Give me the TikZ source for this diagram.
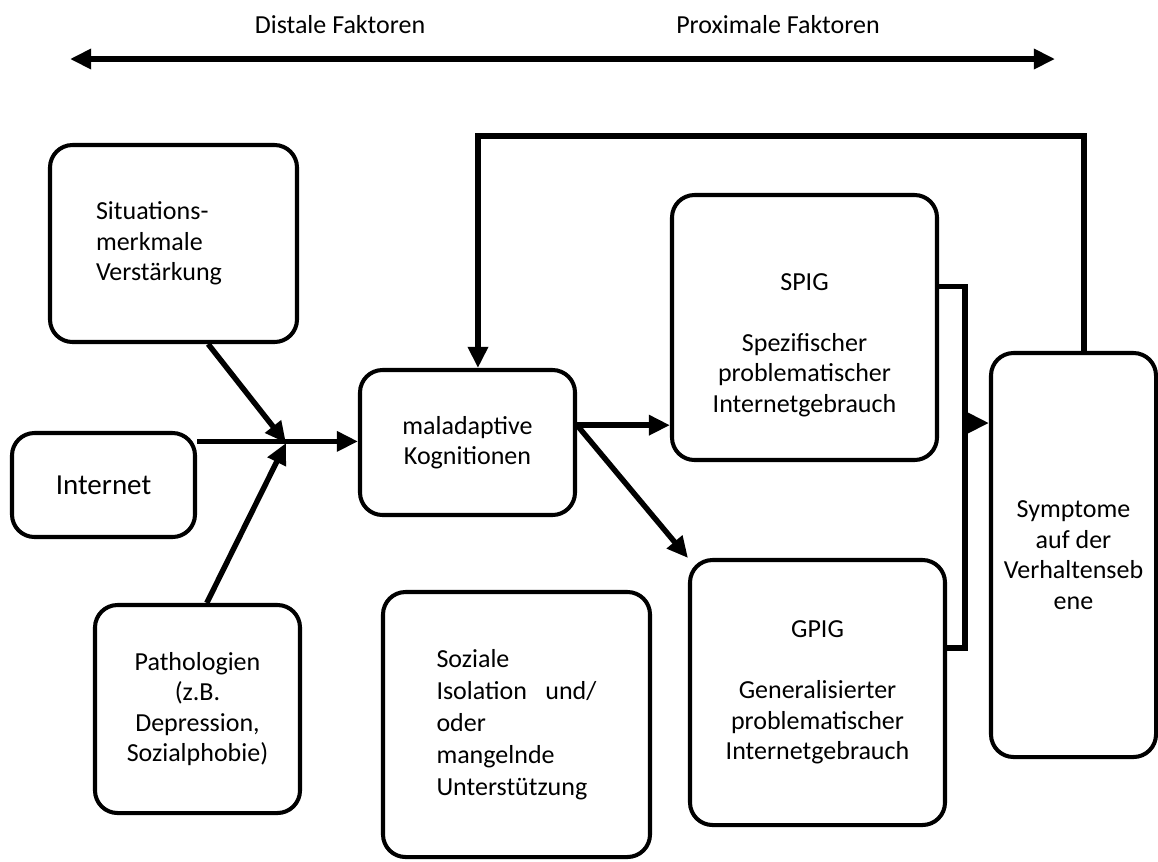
\documentclass[tikz,border=0pt]{standalone}
\usepackage{fontspec}
\setmainfont{Carlito}
\usetikzlibrary{arrows.meta,positioning}

\begin{document}
\begin{tikzpicture}[on grid,font=\fontsize{14.8}{17.4}\selectfont,
   box/.style={draw,line width=2.3pt,rounded corners=0.45cm,align=center,inner sep=0pt},
   wire/.style={line width=3.1pt},
   arr/.style={wire,-{Triangle[length=12pt,width=11pt]}}]
   \useasboundingbox (0,0) rectangle (23.16,-17.22);

   \node[box,minimum width=4.3cm,minimum height=2.9cm] (mal) at (9.35,-8.85) {maladaptive\\Kognitionen};
   \node[box,minimum width=4.94cm,minimum height=3.94cm,text width=3.1cm,align=left] (sit) [above left=3.98cm and 5.88cm of mal] {Situations-\\merkmale\\Verstärkung};
   \node[box,minimum width=3.66cm,minimum height=2.08cm,font=\fontsize{16.5}{19}\selectfont] (inet) [below left=0.85cm and 7.28cm of mal] {Internet};
   \node[box,minimum width=4.1cm,minimum height=4.16cm] (patho) [below left=5.33cm and 5.4cm of mal] {Pathologien\\(z.B.\\Depression,\\Sozialphobie)};
   \node[box,minimum width=5.34cm,minimum height=5.3cm,text width=3.2cm,align=left,font=\fontsize{14.8}{18.2}\selectfont] (soz) [below right=5.64cm and 0.98cm of mal] {Soziale\\Isolation\hfill und/\\oder\\mangelnde\\Unterstützung};
   \node[box,minimum width=5.3cm,minimum height=5.3cm] (spig) [above right=2.3cm and 6.74cm of mal] {\strut\\SPIG\\[17.4pt]Spezifischer\\problematischer\\Internetgebrauch};
   \node[box,minimum width=5.1cm,minimum height=5.3cm] (gpig) [below right=5cm and 7cm of mal] {GPIG\\[17.4pt]Generalisierter\\problematischer\\Internetgebrauch};
   \node[box,minimum width=3.3cm,minimum height=8.08cm] (sym) [below right=2.25cm and 12.12cm of mal] {Symptome\\auf der\\Verhaltenseb\\ene};

   % distal / proximal axis
   \node (dist) at (6.8,-0.5) {Distale Faktoren};
   \node (prox) at (15.56,-0.5) {Proximale Faktoren};
   \coordinate (mid) at (9.6,-1.18);
   \coordinate (lend) at (1.4,-1.18);
   \coordinate (rend) at (21.1,-1.18);
   \draw[arr] (mid) -- (lend);
   \draw[arr] (mid) -- (rend);

   \coordinate (join) at (5.72,-8.86);
   \coordinate (brk) at (19.26,-8.46);
   \draw[arr] (inet.25) -- (inet.25 -| mal.west);
   \draw[arr] (sit.-71) -- (join);
   \draw[arr] (patho.85) -- (join);
   \draw[arr] (mal.9) -- (mal.9 -| spig.west);
   \draw[arr] (mal.9) -- (gpig.north west);
   \draw[wire] (spig.17) -- ++(0.52,0) |- (gpig.19);
   \draw[arr] (brk) -- (brk -| sym.west);
   \draw[arr] (sym.87) -- ++(0,4.3) -| (mal.82);
\end{tikzpicture}
\end{document}
